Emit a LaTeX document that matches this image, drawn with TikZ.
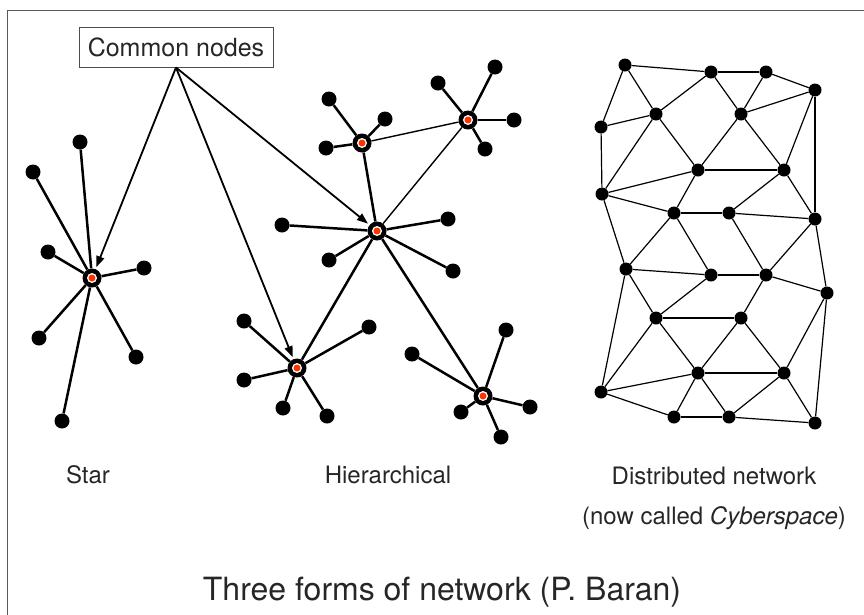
\documentclass[tikz,border=0pt]{standalone}
\usepackage{fontspec}
\setmainfont{TeX Gyre Heros}
\usetikzlibrary{arrows.meta}
\definecolor{hubred}{RGB}{255,51,0}

\begin{document}
\begin{tikzpicture}[x=1pt, y=-1pt,
  leaf/.style={circle, fill=black, inner sep=0pt, minimum size=15pt},
  dot/.style={circle, fill=black, inner sep=0pt, minimum size=13pt},
  hub/.style={circle, fill=black, inner sep=0pt, minimum size=19pt,
    path picture={\fill[white] (path picture bounding box.center) circle (5pt);
      \fill[hubred] (path picture bounding box.center) circle (3.5pt);}},
  spoke/.style={line width=2.5pt},
  thinlink/.style={line width=1.4pt},
  link/.style={line width=1.2pt},
  arr/.style={-{Triangle[length=11pt,width=8pt]}, line width=1.8pt, shorten >=2pt},
  lbl/.style={font=\fontsize{24}{28}\selectfont, text=black!85, anchor=base}
]
  \useasboundingbox (0,0) rectangle (864,614);
  \draw[black!65, line width=1pt] (7,620) -- (7,10.5) -- (870,10.5);

  % star
  \node[hub] (sc) at (92,278) {};
  \node[leaf] (s1) at (33,172) {};
  \node[leaf] (s2) at (80,142) {};
  \node[leaf] (s3) at (48,252) {};
  \node[leaf] (s4) at (144,268) {};
  \node[leaf] (s5) at (39,338) {};
  \node[leaf] (s6) at (136,357) {};
  \node[leaf] (s7) at (62,421) {};
  \foreach \n in {s1,s2,s3,s4,s5,s6,s7}
    \draw[spoke] (sc) -- (\n);

  % hierarchical
  \node[hub] (hm) at (377,231) {};
  \node[hub] (htl) at (362,143) {};
  \node[hub] (htr) at (468,120) {};
  \node[hub] (hll) at (297,368) {};
  \node[hub] (hlr) at (483,396) {};
  \node[leaf] (m1) at (282,225) {};
  \node[leaf] (m2) at (448,219) {};
  \node[leaf] (m3) at (329,260) {};
  \node[leaf] (m4) at (453,271) {};
  \node[leaf] (tl1) at (329,99) {};
  \node[leaf] (tl2) at (385,119) {};
  \node[leaf] (tl3) at (326,148) {};
  \node[leaf] (tr1) at (438,83) {};
  \node[leaf] (tr2) at (495,67) {};
  \node[leaf] (tr3) at (514,120) {};
  \node[leaf] (tr4) at (485,149) {};
  \node[leaf] (ll1) at (244,321) {};
  \node[leaf] (ll2) at (369,327) {};
  \node[leaf] (ll3) at (244,380) {};
  \node[leaf] (ll4) at (283,408) {};
  \node[leaf] (ll5) at (327,416) {};
  \node[leaf] (lr1) at (412,354) {};
  \node[leaf] (lr2) at (506,330) {};
  \node[leaf] (lr3) at (530,407) {};
  \node[leaf] (lr4) at (461,412) {};
  \node[leaf] (lr5) at (501,437) {};
  \foreach \n in {m1,m2,m3,m4} \draw[spoke] (hm) -- (\n);
  \foreach \n in {tl1,tl2,tl3} \draw[spoke] (htl) -- (\n);
  \foreach \n in {tr1,tr2,tr3,tr4} \draw[spoke] (htr) -- (\n);
  \foreach \n in {ll1,ll2,ll3,ll4,ll5} \draw[spoke] (hll) -- (\n);
  \foreach \n in {lr1,lr2,lr3,lr4,lr5} \draw[spoke] (hlr) -- (\n);
  \draw[spoke] (hm) -- (htl);
  \draw[spoke] (hm) -- (hll);
  \draw[spoke] (hm) -- (hlr);
  \draw[thinlink] (hm) -- (htr);
  \draw[thinlink] (htl) -- (htr);

  % distributed
  \foreach \n/\x/\y in {a1/625/65, a2/711/72, a3/766/72, a4/815/90,
      b1/601/127, b2/656/114, b3/741/114, c1/698/170, c2/784/170,
      d1/602/194, d2/674/213, d3/729/213, d4/815/219,
      e1/626/269, e2/711/275, e3/766/275, e4/827/293,
      f1/656/318, f2/741/318, g1/698/373, g2/784/373,
      h0/601/392, h1/674/417, h2/729/417, h3/815/423}
    \node[dot] (\n) at (\x,\y) {};
  \foreach \u/\v in {a1/a2, a2/a3, a3/a4, a1/b1, a1/b2, b1/b2, b2/a2, a2/b3,
      a3/b3, b3/a4, a4/c2, a4/d4, b1/d1, b2/d1, b2/c1, b3/c1, b3/c2, c1/c2,
      d1/c1, d1/d2, c1/d2, d2/d3, d3/c2, c2/d4, d3/d4,
      d1/e1, d2/e1, d2/e2, d3/e3, d4/e3, d4/e4,
      e1/e2, e2/e3, e3/e4, e1/f1, e1/h0, e2/f1, e3/f2, e4/g2, e4/h3,
      f1/f2, f1/g1, f2/g1, f2/g2, f1/h0, g1/g2, g1/h0, g1/h1, g1/h2,
      h0/h1, h1/h2, h2/g2, g2/h3, h2/h3}
    \draw[link] (\u) -- (\v);

  % common nodes
  \node[draw=black!70, line width=1pt, minimum width=194pt, minimum height=40pt,
    font=\fontsize{25}{30}\selectfont, text=black!85] (cn) at (176,47) {Common nodes};
  \draw[arr] (cn.south) -- (sc);
  \draw[arr] (cn.south) -- (hll);
  \draw[arr] (cn.south) -- (hm);

  % labels
  \node[lbl] (lstar) at (88,483) {Star};
  \node[lbl] (lhier) at (388,483) {Hierarchical};
  \node[lbl] (ldist) at (714,484) {Distributed network};
  \node[lbl] (lcyber) at (714,524) {(now called \textit{Cyberspace})};
  \node[anchor=base, font=\fontsize{32}{38}\selectfont, text=black!85] (title)
    at (442,600) {Three forms of network (P. Baran)};
\end{tikzpicture}
\end{document}
